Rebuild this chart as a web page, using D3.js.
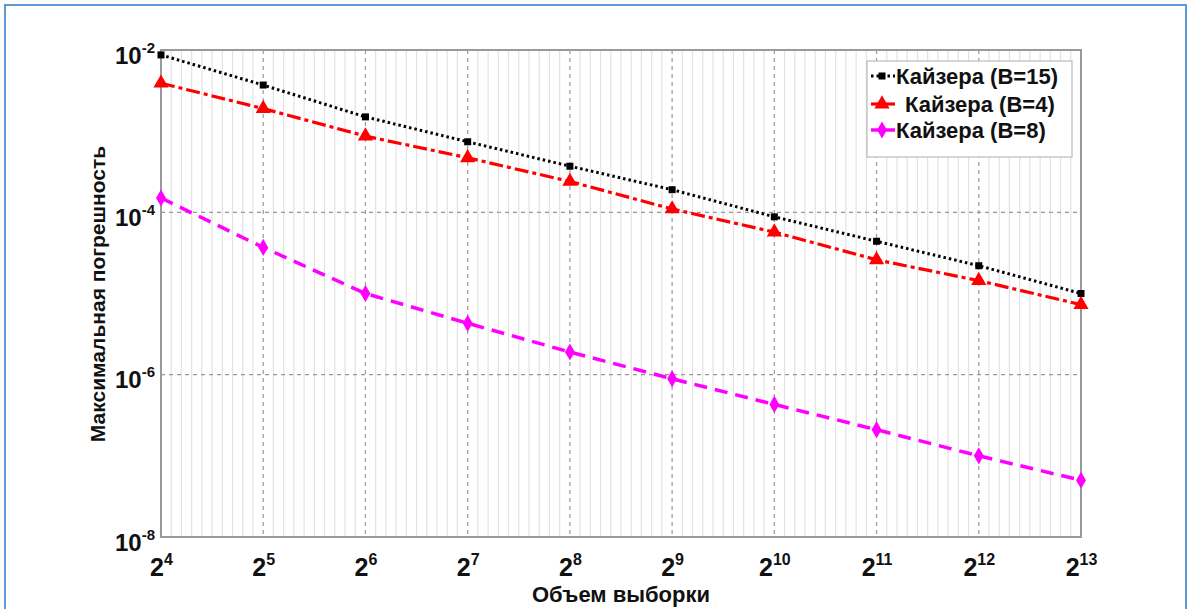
<!DOCTYPE html>
<html><head><meta charset="utf-8">
<script src="https://cdn.jsdelivr.net/npm/d3@7/dist/d3.min.js"></script>
<style>body{margin:0;background:#fff;} svg{display:block;font-family:"Liberation Sans",Arial,sans-serif;}</style>
</head><body>
<svg id="c" width="1192" height="609"></svg>
<script>
const xExponents = [4,5,6,7,8,9,10,11,12,13];
const yExponents = [-2,-4,-6,-8];
const seriesNames = ["Кайзера (B=15)", "Кайзера (B=4)", "Кайзера (B=8)"];
const kaiser15 = [8.7e-3,3.7e-3,1.5e-3,7.4e-4,3.7e-4,1.9e-4,8.8e-5,4.4e-5,2.2e-5,1.0e-5];
const kaiser4  = [3.9e-3,1.9e-3,8.7e-4,4.7e-4,2.4e-4,1.1e-4,5.7e-5,2.6e-5,1.44e-5,7.3e-6];
const kaiser8  = [1.5e-4,3.7e-5,1.0e-5,4.3e-6,1.9e-6,8.9e-7,4.3e-7,2.1e-7,1.0e-7,5.0e-8];
const xTitle = "Объем выборки";
const yTitle = "Максимальная погрешность";

const svg = d3.select("#c");
const L=161, R=1081, T=50, B=537;
const x = d3.scaleLog().base(2).domain([16, 8192]).range([L,R]);
const y = d3.scaleLog().domain([1e-8, 1e-2]).range([B,T]);

// outer blue border
svg.append("rect").attr("x",5).attr("y",5).attr("width",1181).attr("height",620)
  .attr("fill","none").attr("stroke","#5b9bd5").attr("stroke-width",2);

const g = svg.append("g");
// minor vertical grid
for (let k=0;k<xExponents.length-1;k++){
  for (let j=1;j<10;j++){
    const v = Math.pow(2, xExponents[k] + j/10);
    g.append("line").attr("x1",x(v)).attr("x2",x(v)).attr("y1",T).attr("y2",B)
     .attr("stroke","#e2e2e2").attr("stroke-width",1.2);
  }
}
// major grid
xExponents.forEach(e=>{
  const v=Math.pow(2,e);
  g.append("line").attr("x1",x(v)).attr("x2",x(v)).attr("y1",T).attr("y2",B)
   .attr("stroke","#999").attr("stroke-width",1.2).attr("stroke-dasharray","4,4");
});
yExponents.forEach(e=>{
  const v=Math.pow(10,e);
  g.append("line").attr("x1",L).attr("x2",R).attr("y1",y(v)).attr("y2",y(v))
   .attr("stroke","#999").attr("stroke-width",1.2).attr("stroke-dasharray","4,4");
});
// frame
g.append("rect").attr("x",L).attr("y",T).attr("width",R-L).attr("height",B-T)
 .attr("fill","none").attr("stroke","#999").attr("stroke-width",2);

// axes via d3 (tick labels custom)
const xAxis = d3.axisBottom(x).tickValues(xExponents.map(e=>Math.pow(2,e))).tickSize(0).tickFormat("");
const xg = svg.append("g").attr("transform",`translate(0,${B})`).call(xAxis);
xg.select(".domain").remove();
xg.selectAll(".tick").each(function(d,i){
  const t = d3.select(this).append("text").attr("y",39).attr("fill","#111")
    .attr("font-weight","bold").attr("font-size",25).attr("text-anchor","middle");
  t.append("tspan").text("2");
  t.append("tspan").text(xExponents[i]).attr("font-size",16).attr("dy",-11);
});
const yAxis = d3.axisLeft(y).tickValues(yExponents.map(e=>Math.pow(10,e))).tickSize(0).tickFormat("");
const yg = svg.append("g").attr("transform",`translate(${L},0)`).call(yAxis);
yg.select(".domain").remove();
yg.selectAll(".tick").each(function(d,i){
  const t = d3.select(this).append("text").attr("x",-6).attr("y",13).attr("fill","#111")
    .attr("font-weight","bold").attr("font-size",24).attr("text-anchor","end");
  t.append("tspan").text("10");
  t.append("tspan").text(yExponents[i]).attr("font-size",15).attr("dy",-11);
});

svg.append("text").attr("x",621).attr("y",602).attr("text-anchor","middle")
  .attr("font-weight","bold").attr("font-size",22).attr("fill","#111").text(xTitle);
svg.append("text").attr("transform",`translate(105,${294}) rotate(-90)`).attr("text-anchor","middle")
  .attr("font-weight","bold").attr("font-size",21).attr("fill","#111").text(yTitle);

const styles = [
  {data:kaiser15, color:"#000", dash:"2.5,3", w:3, marker:"square"},
  {data:kaiser4, color:"#f00", dash:"14,4,4,4", w:3.2, marker:"triangle"},
  {data:kaiser8, color:"#f0f", dash:"13,8", w:3.5, marker:"diamond"}
];
const line = d3.line().x((d,i)=>x(Math.pow(2,xExponents[i]))).y(d=>y(d));
function marker(sel, type, color, cx, cy){
  if(type==="square") sel.append("rect").attr("x",cx-3.5).attr("y",cy-3.5).attr("width",7).attr("height",7).attr("fill",color);
  else if(type==="triangle") sel.append("path").attr("d",d3.symbol(d3.symbolTriangle,100)()).attr("transform",`translate(${cx},${cy})`).attr("fill",color);
  else sel.append("path").attr("d",d3.symbol(d3.symbolDiamond,85)()).attr("transform",`translate(${cx},${cy})`).attr("fill",color);
}
styles.forEach(s=>{
  svg.append("path").datum(s.data).attr("d",line).attr("fill","none").attr("stroke",s.color)
    .attr("stroke-width",s.w).attr("stroke-dasharray",s.dash);
  s.data.forEach((d,i)=>marker(svg, s.marker, s.color, x(Math.pow(2,xExponents[i])), y(d)));
});

// legend
const lg = svg.append("g");
lg.append("rect").attr("x",867).attr("y",61).attr("width",205).attr("height",96)
  .attr("fill","#fff").attr("stroke","#bbb").attr("stroke-width",1.2);
const rowY=[76,104,130];
styles.forEach((s,i)=>{
  lg.append("line").attr("x1",871).attr("x2",895).attr("y1",rowY[i]).attr("y2",rowY[i])
    .attr("stroke",s.color).attr("stroke-width",s.w).attr("stroke-dasharray", i===0?"2.5,3":null);
  marker(lg, s.marker, s.color, 882, rowY[i]);
  lg.append("text").attr("x", i===1?905:896).attr("y",rowY[i]+8).attr("font-weight","bold")
    .attr("font-size",22).attr("fill","#111").text(seriesNames[i]);
});
</script>
</body></html>
